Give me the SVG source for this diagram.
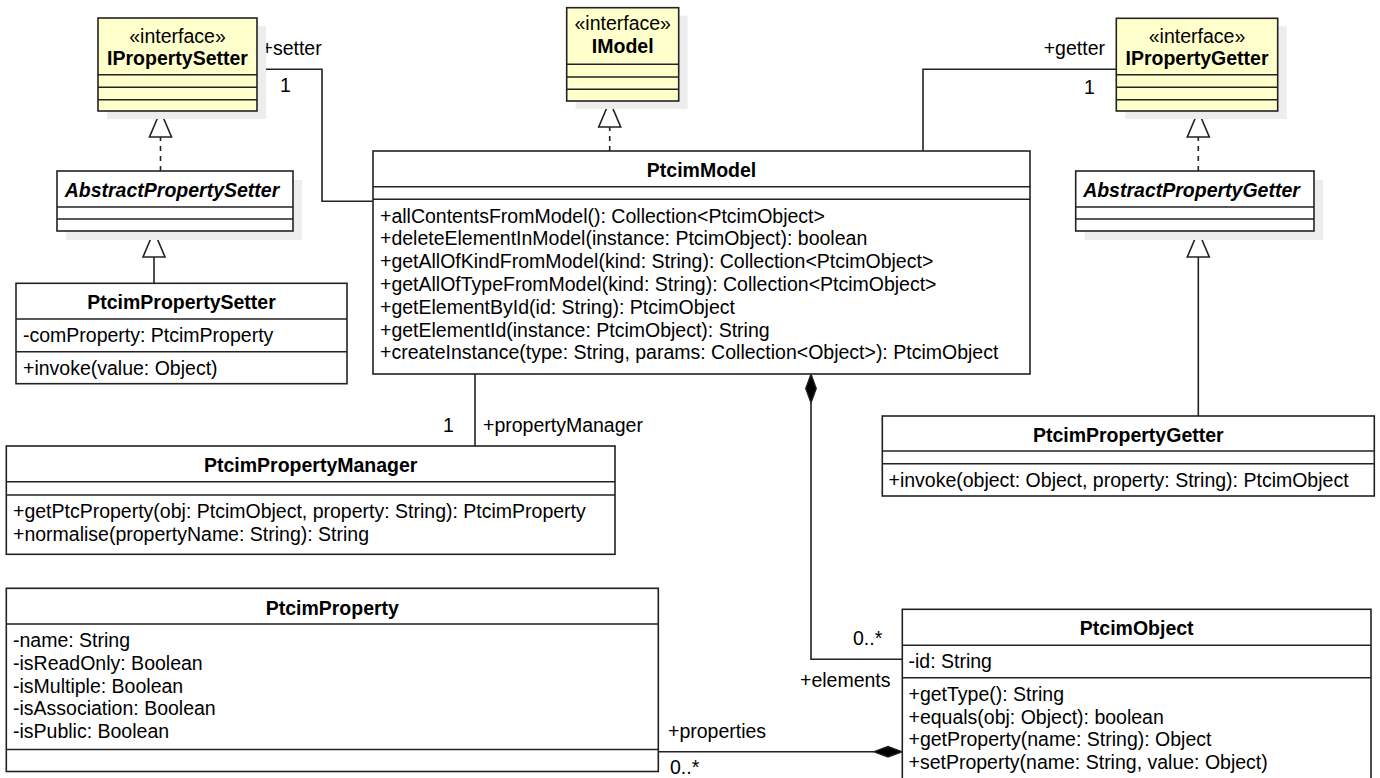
<svg xmlns="http://www.w3.org/2000/svg" width="1380" height="778" viewBox="0 0 1380 778">
<style>
.bg{fill:#ffffff}
.box{fill:#ffffff;stroke:#222;stroke-width:1.6}
.iface{fill:#ffffcc;stroke:#222;stroke-width:1.6}
.sh{fill:#ededed}
.div{stroke:#222;stroke-width:1.6;fill:none}
.ln{stroke:#222;stroke-width:1.6;fill:none}
.dash{stroke:#222;stroke-width:1.6;fill:none;stroke-dasharray:5 5}
.tri{fill:#ffffff;stroke:#222;stroke-width:1.6}
.dia{fill:#000;stroke:#222;stroke-width:1.2}
text{font-family:"Liberation Sans",Arial,Helvetica,sans-serif;font-size:19.5px;fill:#000}
.b{font-weight:bold}
.i{font-style:italic}
.c{text-anchor:middle}
.e{text-anchor:end}
</style>
<rect class="bg" x="0" y="0" width="1380" height="778"/>

<g id="connectors">
  <!-- setter association -->
  <polyline class="ln" points="257,69.3 322,69.3 322,201.3 373,201.3"/>
  <text x="261.5" y="55">+setter</text>
  <text x="280" y="92">1</text>
  <!-- getter association -->
  <polyline class="ln" points="923,151 923,69.3 1116.3,69.3"/>
  <text class="e" x="1105" y="55">+getter</text>
  <text x="1084" y="94">1</text>
  <!-- IModel realization -->
  <line class="dash" x1="609.7" y1="151" x2="609.7" y2="127"/>
  <polygon class="tri" points="609.7,101 598.7,127 620.7,127"/>
  <!-- IPropertySetter realization -->
  <line class="dash" x1="160.5" y1="171" x2="160.5" y2="137"/>
  <polygon class="tri" points="160.5,111 149.5,137 171.5,137"/>
  <!-- IPropertyGetter realization -->
  <line class="dash" x1="1198.3" y1="171" x2="1198.3" y2="137"/>
  <polygon class="tri" points="1198.3,111 1187.3,137 1209.3,137"/>
  <!-- setter generalization -->
  <line class="ln" x1="154" y1="283.3" x2="154" y2="257"/>
  <polygon class="tri" points="154,231 143,257 165,257"/>
  <!-- getter generalization -->
  <line class="ln" x1="1198.3" y1="416" x2="1198.3" y2="257"/>
  <polygon class="tri" points="1198.3,231 1187.3,257 1209.3,257"/>
  <!-- propertyManager -->
  <line class="ln" x1="475" y1="374" x2="475" y2="446"/>
  <text x="443" y="432">1</text>
  <text x="483" y="432">+propertyManager</text>
  <!-- elements composition -->
  <polyline class="ln" points="811,403 811,659.3 902.3,659.3"/>
  <polygon class="dia" points="811,374 816.3,388.5 811,403 805.7,388.5"/>
  <text x="853" y="645">0..*</text>
  <text x="800" y="687">+elements</text>
  <!-- properties composition -->
  <line class="ln" x1="658.3" y1="751.7" x2="874" y2="751.7"/>
  <polygon class="dia" points="902.3,751.7 888,746.4 873.7,751.7 888,757"/>
  <text x="668" y="738">+properties</text>
  <text x="670" y="774">0..*</text>
</g>

<g id="IPropertySetter">
  <rect class="sh" x="107" y="26" width="159" height="93"/>
  <rect class="iface" x="98" y="18" width="159" height="93"/>
  <line class="div" x1="98" y1="74.7" x2="257" y2="74.7"/>
  <line class="div" x1="98" y1="87.3" x2="257" y2="87.3"/>
  <line class="div" x1="98" y1="99.7" x2="257" y2="99.7"/>
  <text class="c" x="177.5" y="42.5">«interface»</text>
  <text class="c b" x="177.5" y="64.5">IPropertySetter</text>
</g>

<g id="IModel">
  <rect class="sh" x="575.7" y="15.7" width="112" height="93.3"/>
  <rect class="iface" x="566.7" y="7.7" width="112" height="93.3"/>
  <line class="div" x1="566.7" y1="64.3" x2="678.7" y2="64.3"/>
  <line class="div" x1="566.7" y1="77" x2="678.7" y2="77"/>
  <line class="div" x1="566.7" y1="89.3" x2="678.7" y2="89.3"/>
  <text class="c" x="622.7" y="30">«interface»</text>
  <text class="c b" x="622.7" y="52.5">IModel</text>
</g>

<g id="IPropertyGetter">
  <rect class="sh" x="1125.3" y="26.3" width="161.4" height="92.7"/>
  <rect class="iface" x="1116.3" y="18.3" width="161.4" height="92.7"/>
  <line class="div" x1="1116.3" y1="74.7" x2="1277.7" y2="74.7"/>
  <line class="div" x1="1116.3" y1="87.3" x2="1277.7" y2="87.3"/>
  <line class="div" x1="1116.3" y1="99.7" x2="1277.7" y2="99.7"/>
  <text class="c" x="1197" y="42.5">«interface»</text>
  <text class="c b" x="1197" y="64.5">IPropertyGetter</text>
</g>

<g id="AbstractPropertySetter">
  <rect class="sh" x="66" y="180" width="236" height="60"/>
  <rect class="box" x="57" y="171" width="236" height="60"/>
  <line class="div" x1="57" y1="207" x2="293" y2="207"/>
  <line class="div" x1="57" y1="219" x2="293" y2="219"/>
  <text class="c b i" x="172" y="197">AbstractPropertySetter</text>
</g>

<g id="AbstractPropertyGetter">
  <rect class="sh" x="1084.7" y="180" width="238.3" height="60"/>
  <rect class="box" x="1075.7" y="171" width="238.3" height="60"/>
  <line class="div" x1="1075.7" y1="207" x2="1314" y2="207"/>
  <line class="div" x1="1075.7" y1="219" x2="1314" y2="219"/>
  <text class="c b i" x="1191.5" y="197">AbstractPropertyGetter</text>
</g>

<g id="PtcimModel">
  <rect class="box" x="373" y="151" width="657" height="223"/>
  <line class="div" x1="373" y1="186.7" x2="1030" y2="186.7"/>
  <line class="div" x1="373" y1="199.3" x2="1030" y2="199.3"/>
  <text class="c b" x="701.5" y="177">PtcimModel</text>
  <text x="380" y="222.5">+allContentsFromModel(): Collection&lt;PtcimObject&gt;</text>
  <text x="380" y="245.3">+deleteElementInModel(instance: PtcimObject): boolean</text>
  <text x="380" y="268.1">+getAllOfKindFromModel(kind: String): Collection&lt;PtcimObject&gt;</text>
  <text x="380" y="290.9">+getAllOfTypeFromModel(kind: String): Collection&lt;PtcimObject&gt;</text>
  <text x="380" y="313.7">+getElementById(id: String): PtcimObject</text>
  <text x="380" y="336.5">+getElementId(instance: PtcimObject): String</text>
  <text x="380" y="359.3">+createInstance(type: String, params: Collection&lt;Object&gt;): PtcimObject</text>
</g>

<g id="PtcimPropertySetter">
  <rect class="box" x="16" y="283.3" width="331" height="100.4"/>
  <line class="div" x1="16" y1="319" x2="347" y2="319"/>
  <line class="div" x1="16" y1="351.7" x2="347" y2="351.7"/>
  <text class="c b" x="181.5" y="309">PtcimPropertySetter</text>
  <text x="23" y="342">-comProperty: PtcimProperty</text>
  <text x="23" y="374.5">+invoke(value: Object)</text>
</g>

<g id="PtcimPropertyManager">
  <rect class="box" x="6.3" y="446" width="608.7" height="108.3"/>
  <line class="div" x1="6.3" y1="481.7" x2="615" y2="481.7"/>
  <line class="div" x1="6.3" y1="495" x2="615" y2="495"/>
  <text class="c b" x="310.7" y="471.5">PtcimPropertyManager</text>
  <text x="13" y="518">+getPtcProperty(obj: PtcimObject, property: String): PtcimProperty</text>
  <text x="13" y="540.8">+normalise(propertyName: String): String</text>
</g>

<g id="PtcimPropertyGetter">
  <rect class="box" x="882.3" y="416" width="492" height="80"/>
  <line class="div" x1="882.3" y1="451" x2="1374.3" y2="451"/>
  <line class="div" x1="882.3" y1="463.7" x2="1374.3" y2="463.7"/>
  <text class="c b" x="1128.3" y="441.5">PtcimPropertyGetter</text>
  <text x="888.5" y="486.7">+invoke(object: Object, property: String): PtcimObject</text>
</g>

<g id="PtcimProperty">
  <rect class="box" x="6.3" y="588.3" width="652" height="183.2"/>
  <line class="div" x1="6.3" y1="624" x2="658.3" y2="624"/>
  <line class="div" x1="6.3" y1="749.5" x2="658.3" y2="749.5"/>
  <text class="c b" x="332.3" y="614.5">PtcimProperty</text>
  <text x="13" y="647">-name: String</text>
  <text x="13" y="669.8">-isReadOnly: Boolean</text>
  <text x="13" y="692.6">-isMultiple: Boolean</text>
  <text x="13" y="715.4">-isAssociation: Boolean</text>
  <text x="13" y="738.2">-isPublic: Boolean</text>
</g>

<g id="PtcimObject">
  <rect class="box" x="902.3" y="609.3" width="468.7" height="180"/>
  <line class="div" x1="902.3" y1="645.3" x2="1371" y2="645.3"/>
  <line class="div" x1="902.3" y1="677.7" x2="1371" y2="677.7"/>
  <text class="c b" x="1136.7" y="635">PtcimObject</text>
  <text x="908.5" y="668.3">-id: String</text>
  <text x="908.5" y="700.7">+getType(): String</text>
  <text x="908.5" y="723.5">+equals(obj: Object): boolean</text>
  <text x="908.5" y="746.3">+getProperty(name: String): Object</text>
  <text x="908.5" y="769.1">+setProperty(name: String, value: Object)</text>
</g>
</svg>
